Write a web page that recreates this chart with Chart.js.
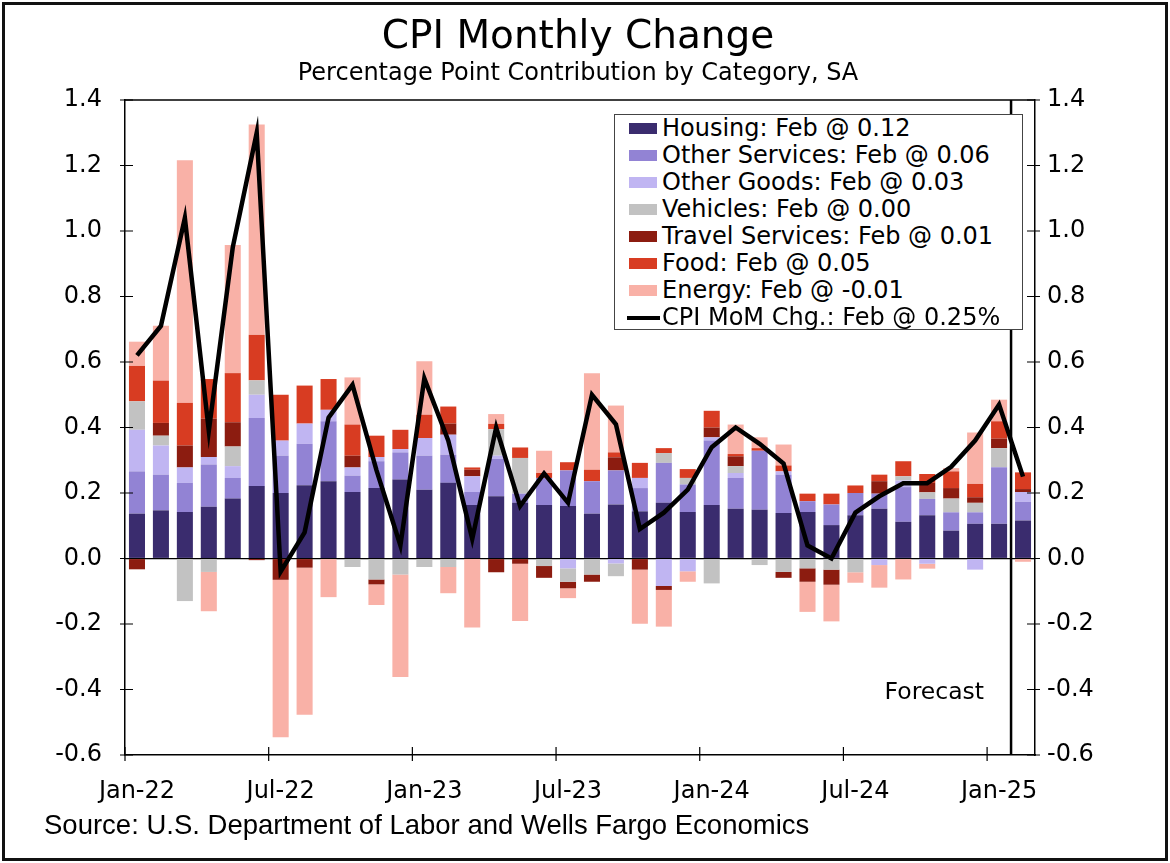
<!DOCTYPE html>
<html lang="en">
<head>
    <meta charset="UTF-8">
    <title>CPI Monthly Change</title>
    <script src="https://cdn.jsdelivr.net/npm/chart.js"></script>
    <style>
        body { margin: 0; background: #fff; }
        .wrap { position: relative; width: 1170px; height: 863px; overflow: hidden; background: #fff; }
        .frame { position: absolute; left: 2px; top: 2px; width: 1160px; height: 853px; border: 3px solid #111; pointer-events: none; }
        #cpiChart { position: absolute; left: 0; top: 0; }
        .title { position: absolute; left: 0; top: 13px; width: 1156px; text-align: center; font-family: "DejaVu Sans", Verdana, sans-serif; font-size: 39px; line-height: 44px; color: #000; }
        .subtitle { position: absolute; left: 0; top: 58px; width: 1156px; text-align: center; font-family: "DejaVu Sans", Verdana, sans-serif; font-size: 24px; line-height: 28px; color: #000; }
        .source { position: absolute; left: 44px; top: 809px; font-family: "Liberation Sans", Arial, sans-serif; font-size: 27.5px; line-height: 32px; color: #000; }
        .legend { position: absolute; left: 614px; top: 114px; width: 407px; height: 214px; border: 1.5px solid #444; background: #fff; font-family: "DejaVu Sans", Verdana, sans-serif; font-size: 24px; color: #000; }
        .legend .row { position: relative; height: 27px; line-height: 27px; white-space: nowrap; }
        .legend .sw { position: absolute; left: 14px; top: 8px; width: 28px; height: 11px; }
        .legend .ln { position: absolute; left: 12px; top: 12px; width: 33px; height: 4px; background: #000; }
        .legend .tx { position: absolute; left: 47px; top: 0; }
    </style>
</head>
<body>
<div class="wrap">
    <canvas id="cpiChart" width="1170" height="863"></canvas>
    <div class="title">CPI Monthly Change</div>
    <div class="subtitle">Percentage Point Contribution by Category, SA</div>
    <div class="legend" id="legend"></div>
    <div class="source">Source: U.S. Department of Labor and Wells Fargo Economics</div>
    <div class="frame"></div>
</div>

<script>
    // months shown on the x axis (only every 6th label is printed)
    const months = ['Jan-22', 'Feb-22', 'Mar-22', 'Apr-22', 'May-22', 'Jun-22', 'Jul-22', 'Aug-22', 'Sep-22', 'Oct-22', 'Nov-22', 'Dec-22',
        'Jan-23', 'Feb-23', 'Mar-23', 'Apr-23', 'May-23', 'Jun-23', 'Jul-23', 'Aug-23', 'Sep-23', 'Oct-23', 'Nov-23', 'Dec-23',
        'Jan-24', 'Feb-24', 'Mar-24', 'Apr-24', 'May-24', 'Jun-24', 'Jul-24', 'Aug-24', 'Sep-24', 'Oct-24', 'Nov-24', 'Dec-24',
        'Jan-25', 'Feb-25'];

    // contributions in percentage points
    const housing = [0.137, 0.147, 0.142, 0.158, 0.183, 0.221, 0.200, 0.224, 0.236, 0.203, 0.215, 0.241,
        0.210, 0.231, 0.163, 0.190, 0.170, 0.163, 0.160, 0.137, 0.165, 0.144, 0.170, 0.142,
        0.163, 0.152, 0.149, 0.139, 0.142, 0.102, 0.132, 0.152, 0.112, 0.132, 0.085, 0.106,
        0.106, 0.116];
    const otherServices = [0.129, 0.109, 0.089, 0.129, 0.063, 0.208, 0.114, 0.126, 0.183, 0.050, 0.082, 0.083,
        0.104, 0.086, 0.040, 0.114, 0.028, 0.083, 0.109, 0.099, 0.104, 0.071, 0.122, 0.084,
        0.197, 0.094, 0.180, 0.117, 0.033, 0.063, 0.068, 0.046, 0.106, 0.050, 0.056, 0.035,
        0.173, 0.057];
    const otherGoods = [0.127, 0.089, 0.047, 0.023, 0.036, 0.071, 0.046, 0.062, 0.035, 0.025, 0.013, 0.010,
        0.054, 0.061, 0.048, 0.010, 0.000, 0.000, -0.030, 0.000, -0.015, 0.031, -0.084, -0.039,
        0.010, 0.015, 0.000, 0.010, 0.000, 0.000, 0.000, -0.020, 0.020, -0.016, 0.000, -0.034,
        0.000, 0.030];
    const vehicles = [0.087, 0.030, -0.130, -0.041, 0.060, 0.044, 0.000, 0.000, 0.000, -0.026, -0.064, -0.049,
        -0.026, -0.026, 0.000, 0.081, 0.109, -0.023, -0.041, -0.049, -0.039, 0.000, 0.030, 0.020,
        -0.076, 0.021, -0.020, -0.041, -0.030, -0.034, -0.042, 0.000, 0.013, 0.020, 0.042, 0.029,
        0.058, 0.000];
    const travelServices = [-0.033, 0.039, 0.067, 0.117, 0.074, -0.005, -0.065, -0.028, 0.000, 0.036, -0.015, 0.000,
        0.000, 0.034, 0.020, -0.042, -0.016, -0.036, -0.020, -0.022, 0.040, -0.034, -0.012, 0.000,
        0.030, 0.030, 0.000, -0.018, -0.041, -0.046, 0.000, 0.038, 0.000, 0.029, 0.032, 0.017,
        0.029, 0.009];
    const food = [0.108, 0.129, 0.130, 0.121, 0.150, 0.139, 0.140, 0.116, 0.094, 0.095, 0.065, 0.059,
        0.071, 0.052, 0.007, 0.016, 0.032, 0.015, 0.025, 0.035, 0.015, 0.046, 0.015, 0.027,
        0.051, 0.007, 0.008, 0.018, 0.023, 0.033, 0.023, 0.020, 0.046, 0.027, 0.051, 0.041,
        0.053, 0.051];
    const energy = [0.074, 0.168, 0.741, -0.120, 0.391, 0.642, -0.481, -0.449, -0.118, 0.144, -0.063, -0.313,
        0.163, -0.080, -0.211, 0.030, -0.175, 0.068, -0.030, 0.295, 0.143, -0.165, -0.112, -0.032,
        0.000, 0.090, 0.033, 0.064, -0.092, -0.112, -0.032, -0.069, -0.064, -0.015, 0.010, 0.157,
        0.066, -0.010];
    // headline CPI month-over-month change, %
    const cpiMoM = [0.62, 0.71, 1.04, 0.39, 0.95, 1.30, -0.04, 0.08, 0.43, 0.53, 0.27, 0.04,
        0.55, 0.36, 0.06, 0.40, 0.16, 0.26, 0.17, 0.50, 0.41, 0.09, 0.14, 0.21,
        0.34, 0.40, 0.35, 0.29, 0.04, 0.00, 0.14, 0.19, 0.23, 0.23, 0.28, 0.36,
        0.47, 0.25];

    const seriesNames = ['Housing', 'Other Services', 'Other Goods', 'Vehicles', 'Travel Services', 'Food', 'Energy'];
    const seriesData = [housing, otherServices, otherGoods, vehicles, travelServices, food, energy];
    const seriesColors = ['#3a2c6e', '#9283d4', '#c0b5f2', '#c2c2c2', '#8c1c10', '#d83c22', '#f9b1a7'];
    const lineName = 'CPI MoM Chg.';

    const yTicks = [-0.6, -0.4, -0.2, 0.0, 0.2, 0.4, 0.6, 0.8, 1.0, 1.2, 1.4];
    const forecastStart = 'Feb-25';

    // html legend, last month value shown next to each name
    const legendEl = document.getElementById('legend');
    seriesNames.forEach((name, i) => {
        const vals = seriesData[i];
        const row = document.createElement('div');
        row.className = 'row';
        row.innerHTML = `<span class="sw" style="background:${seriesColors[i]}"></span><span class="tx">${name}: Feb @ ${vals[vals.length - 1].toFixed(2)}</span>`;
        legendEl.appendChild(row);
    });
    const lineRow = document.createElement('div');
    lineRow.className = 'row';
    lineRow.innerHTML = `<span class="ln"></span><span class="tx">${lineName}: Feb @ ${cpiMoM[cpiMoM.length - 1].toFixed(2)}%</span>`;
    legendEl.appendChild(lineRow);

    // frame, tick marks across the axes, forecast divider
    const decorPlugin = {
        id: 'decor',
        afterDraw(chart) {
            const ctx = chart.ctx;
            const area = chart.chartArea;
            const x = chart.scales.x;
            const y = chart.scales.y;
            ctx.save();
            ctx.strokeStyle = '#000';
            ctx.lineWidth = 1.5;
            ctx.beginPath();
            ctx.moveTo(area.left, area.top);
            ctx.lineTo(area.right, area.top);
            ctx.stroke();

            ctx.lineWidth = 1.2;
            yTicks.forEach(v => {
                const py = y.getPixelForValue(v);
                ctx.beginPath();
                ctx.moveTo(area.left - 5, py);
                ctx.lineTo(area.left + 8, py);
                ctx.moveTo(area.right - 8, py);
                ctx.lineTo(area.right + 5, py);
                ctx.stroke();
            });
            months.forEach((m, i) => {
                if (i % 6 !== 0) return;
                const px = x.getPixelForValue(i - 0.5);
                ctx.beginPath();
                ctx.moveTo(px, area.bottom - 8);
                ctx.lineTo(px, area.bottom + 6);
                ctx.stroke();
            });

            const fx = x.getPixelForValue(months.indexOf(forecastStart) - 0.5);
            ctx.lineWidth = 2.5;
            ctx.beginPath();
            ctx.moveTo(fx, area.top);
            ctx.lineTo(fx, area.bottom);
            ctx.stroke();

            ctx.fillStyle = '#000';
            ctx.font = '23.5px "DejaVu Sans", Verdana, sans-serif';
            ctx.textAlign = 'right';
            ctx.textBaseline = 'middle';
            ctx.fillText('Forecast', fx - 27, y.getPixelForValue(-0.41));
            ctx.restore();
        }
    };

    const datasets = seriesNames.map((name, i) => ({
        type: 'bar',
        label: name,
        data: seriesData[i],
        backgroundColor: seriesColors[i],
        borderWidth: 0,
        stack: 'cpi',
        order: 1,
        barPercentage: 0.67,
        categoryPercentage: 1.0
    }));
    datasets.push({
        type: 'line',
        label: lineName,
        data: cpiMoM,
        borderColor: '#000',
        borderWidth: 4.5,
        pointRadius: 0,
        tension: 0,
        fill: false,
        order: 0
    });

    Chart.defaults.font.family = '"DejaVu Sans", Verdana, sans-serif';
    Chart.defaults.font.size = 24;
    Chart.defaults.color = '#000';

    const yCommon = {
        min: -0.6,
        max: 1.4,
        ticks: { stepSize: 0.2, callback: v => v.toFixed(1) },
        border: { display: true, color: '#000', width: 1.5 }
    };

    new Chart(document.getElementById('cpiChart'), {
        data: { labels: months, datasets: datasets },
        options: {
            responsive: false,
            animation: false,
            layout: { padding: { top: 100, left: 0, right: 0, bottom: 0 } },
            plugins: { legend: { display: false }, tooltip: { enabled: false } },
            scales: {
                x: {
                    type: 'category',
                    offset: true,
                    stacked: true,
                    grid: { display: false },
                    border: { display: true, color: '#000', width: 1.5 },
                    ticks: {
                        autoSkip: false,
                        maxRotation: 0,
                        padding: 14,
                        callback: (v, i) => (i % 6 === 0 ? months[i] : '')
                    },
                    afterFit: s => { s.height = 108; }
                },
                y: {
                    ...yCommon,
                    position: 'left',
                    stacked: true,
                    grid: {
                        drawTicks: false,
                        color: c => (Math.abs(c.tick.value) < 1e-9 ? '#000' : 'rgba(0,0,0,0)'),
                        lineWidth: 1.2
                    },
                    ticks: { ...yCommon.ticks, padding: 23 },
                    afterFit: s => { s.width = 125; }
                },
                y1: {
                    ...yCommon,
                    position: 'right',
                    grid: { display: false, drawTicks: false },
                    ticks: { ...yCommon.ticks, padding: 12 },
                    afterFit: s => { s.width = 135; }
                }
            }
        },
        plugins: [decorPlugin]
    });
</script>
</body>
</html>
